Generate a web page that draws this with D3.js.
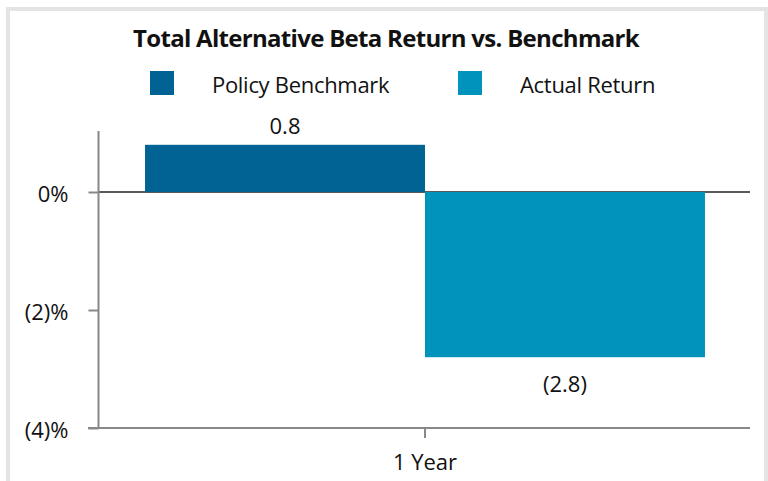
<!DOCTYPE html>
<html>
<head>
<meta charset="utf-8">
<script src="https://cdn.jsdelivr.net/npm/d3@7"></script>
<style>
  html, body { margin: 0; padding: 0; background: #ffffff; }
  svg { display: block; }
  text { font-family: "Open Sans", "Noto Sans", sans-serif; fill: #111; }
</style>
</head>
<body>
<svg id="chart" width="768" height="481"></svg>
<script>
// Chart content
const title = "Total Alternative Beta Return vs. Benchmark";
const categories = ["1 Year"];
const seriesNames = ["Policy Benchmark", "Actual Return"];
const seriesColors = ["#016394", "#0093bc"];
const policyValues = [0.8];
const actualValues = [-2.8];
const yTickValues = [0, -2, -4];
const yTickLabels = ["0%", "(2)%", "(4)%"];

const fmtValue = v => v < 0 ? `(${Math.abs(v).toFixed(1)})` : v.toFixed(1);
const series = [policyValues, actualValues];

const svg = d3.select("#chart");

// Light frame around the panel
svg.append("rect")
  .attr("x", 8).attr("y", 9)
  .attr("width", 758).attr("height", 490)
  .attr("fill", "#ffffff")
  .attr("stroke", "#e4e4e4")
  .attr("stroke-width", 4);

const plot = { left: 98, right: 752, top: 133, bottom: 428 };

const y = d3.scaleLinear().domain([-4, 1]).range([plot.bottom, plot.top]);
const x0 = d3.scaleBand().domain(categories)
  .range([plot.left, plot.right]).paddingInner(0).paddingOuter(0.084);
const x1 = d3.scaleBand().domain(seriesNames)
  .range([0, x0.bandwidth()]).padding(0);

// Title
svg.append("text")
  .attr("x", 386).attr("y", 47)
  .attr("text-anchor", "middle")
  .style("font-weight", "700")
  .style("font-size", "24px")
  .style("letter-spacing", "-0.7px")
  .text(title);

// Legend
const legendX = [150, 458];
const legend = svg.append("g");
seriesNames.forEach((name, i) => {
  legend.append("rect")
    .attr("x", legendX[i]).attr("y", 71)
    .attr("width", 24).attr("height", 24)
    .attr("fill", seriesColors[i]);
  legend.append("text")
    .attr("x", legendX[i] + 62).attr("y", 93)
    .style("font-size", "22px")
    .style("letter-spacing", "-0.3px")
    .text(name);
});

// Zero line
svg.append("line")
  .attr("x1", plot.left).attr("x2", plot.right - 2)
  .attr("y1", y(0)).attr("y2", y(0))
  .attr("stroke", "#5a5a5a").attr("stroke-width", 2);

// Bars
const groups = svg.append("g").selectAll("g")
  .data(categories)
  .join("g")
  .attr("transform", d => `translate(${x0(d)},0)`);

groups.selectAll("rect")
  .data((d, ci) => seriesNames.map((s, si) => ({ s, si, v: series[si][ci] })))
  .join("rect")
  .attr("x", d => x1(d.s))
  .attr("width", x1.bandwidth())
  .attr("y", d => y(Math.max(0, d.v)))
  .attr("height", d => Math.abs(y(d.v) - y(0)))
  .attr("fill", d => seriesColors[d.si]);

// Value labels
groups.selectAll("text.value")
  .data((d, ci) => seriesNames.map((s, si) => ({ s, si, v: series[si][ci] })))
  .join("text")
  .attr("class", "value")
  .attr("x", d => x1(d.s) + x1.bandwidth() / 2)
  .attr("y", d => d.v >= 0 ? y(d.v) - 11 : y(d.v) + 35)
  .attr("text-anchor", "middle")
  .style("font-size", "22px")
  .text(d => fmtValue(d.v));

// Y axis
const yAxis = d3.axisLeft(y)
  .tickValues(yTickValues)
  .tickFormat((d, i) => yTickLabels[i])
  .tickSize(10)
  .tickPadding(20);
const gy = svg.append("g")
  .attr("transform", `translate(${plot.left + 0.5},0)`)
  .call(yAxis);
gy.select(".domain")
  .attr("d", `M0,${plot.top - 2}V${plot.bottom}`)
  .attr("stroke", "#888").attr("stroke-width", 2);
gy.selectAll(".tick line").attr("stroke", "#888").attr("stroke-width", 2);
gy.selectAll(".tick text")
  .attr("dy", "0.45em")
  .style("font-size", "22px")
  .style("font-family", "'Open Sans', sans-serif")
  .attr("fill", "#111");

// X axis
const xAxis = d3.axisBottom(x0).tickSize(10).tickPadding(16);
const gx = svg.append("g")
  .attr("transform", `translate(0,${plot.bottom})`)
  .call(xAxis);
gx.select(".domain")
  .attr("d", `M${plot.left - 10},0H${plot.right - 2}`)
  .attr("stroke", "#888").attr("stroke-width", 2);
gx.selectAll(".tick line").attr("stroke", "#888").attr("stroke-width", 2);
gx.selectAll(".tick text")
  .style("font-size", "22px")
  .style("font-family", "'Open Sans', sans-serif")
  .attr("fill", "#111");
</script>
</body>
</html>
